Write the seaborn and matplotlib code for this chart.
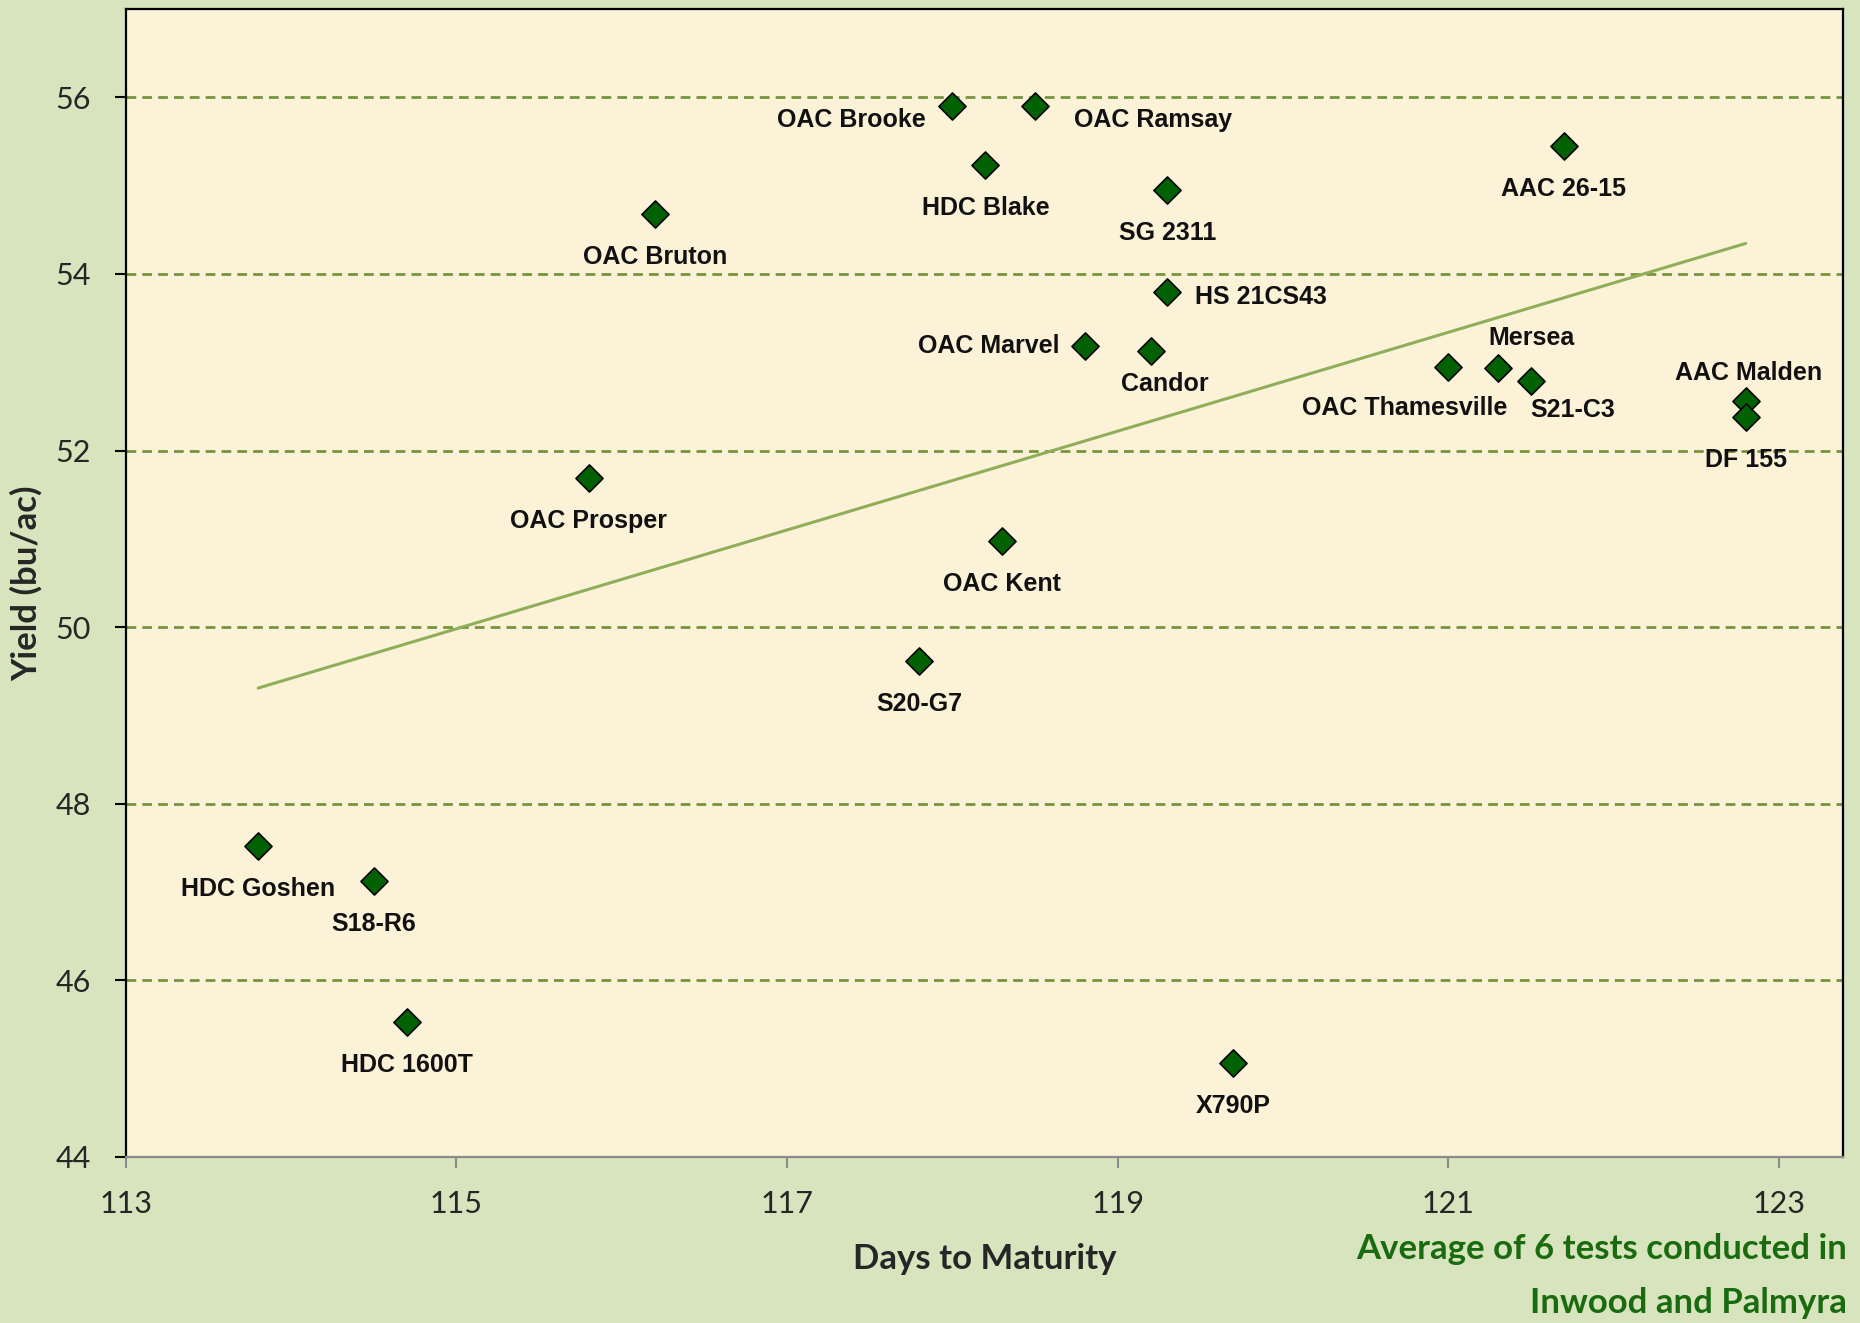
import pandas as pd
import numpy as np
import matplotlib
matplotlib.use("Agg")
import matplotlib.pyplot as plt
import seaborn as sns

# variety data
varieties = ["OAC Brooke", "OAC Ramsay", "HDC Blake", "SG 2311", "AAC 26-15",
             "OAC Bruton", "HS 21CS43", "OAC Marvel", "Candor", "OAC Thamesville",
             "Mersea", "S21-C3", "AAC Malden", "DF 155", "OAC Prosper",
             "OAC Kent", "S20-G7", "HDC Goshen", "S18-R6", "HDC 1600T", "X790P"]
days = [118.0, 118.5, 118.2, 119.3, 121.7,
        116.2, 119.3, 118.8, 119.2, 121.0,
        121.3, 121.5, 122.8, 122.8, 115.8,
        118.3, 117.8, 113.8, 114.5, 114.7, 119.7]
yields = [55.9, 55.9, 55.23, 54.95, 55.45,
          54.68, 53.79, 53.18, 53.13, 52.95,
          52.94, 52.79, 52.56, 52.38, 51.69,
          50.98, 49.62, 47.52, 47.13, 45.53, 45.06]

x_ticks = [113, 115, 117, 119, 121, 123]
y_ticks = [44, 46, 48, 50, 52, 54, 56]

df = pd.DataFrame({"Variety": varieties, "Days": days, "Yield": yields})

# label offsets in points (dx, dy, ha)
below = (0, -31, "center")
label_pos = {
    "OAC Brooke": (-19, -10, "right"),
    "OAC Ramsay": (28, -10, "left"),
    "HS 21CS43": (20, -3, "left"),
    "OAC Marvel": (-18, 0, "right"),
    "Candor": (10, -24, "center"),
    "OAC Thamesville": (-31, -30, "center"),
    "Mersea": (24, 21, "center"),
    "S21-C3": (30, -21, "center"),
    "AAC Malden": (2, 20, "center"),
}

sns.set_style("white")
plt.rcParams["font.family"] = ["Lato", "DejaVu Sans"]

fig = plt.figure(figsize=(18.6, 13.23), dpi=100, facecolor="#d7e4bd")
ax = fig.add_axes([0.0677, 0.1255, 0.9233, 0.8677])
ax.set_facecolor("#fcf2d8")

ax.set_xlim(113, 123.39)
ax.set_ylim(44, 57)
ax.set_yticks(y_ticks)
ax.set_xticks(x_ticks)

for yv in y_ticks[1:]:
    ax.axhline(yv, color="#77933c", lw=2, dashes=(3.5, 2.2), zorder=1)

sns.regplot(data=df, x="Days", y="Yield", scatter=False, ci=None, truncate=True,
            line_kws={"color": "#8fae5a", "lw": 2.2, "zorder": 2}, ax=ax)

sns.scatterplot(data=df, x="Days", y="Yield", marker="D", s=190, color="#006100",
                edgecolor="black", linewidth=1.2, zorder=3, ax=ax, legend=False)

for name, xv, yv in zip(varieties, days, yields):
    dx, dy, ha = label_pos.get(name, below)
    ax.annotate(name, (xv, yv), xytext=(dx, dy), textcoords="offset points",
                ha=ha, va="center", fontsize=18, fontweight="bold",
                family=["Liberation Sans Narrow", "Liberation Sans", "DejaVu Sans"],
                color="#111111", zorder=4)

for side in ["left", "top", "right"]:
    ax.spines[side].set_color("black")
    ax.spines[side].set_linewidth(1.6)
ax.spines["bottom"].set_color("#8c8c8c")
ax.spines["bottom"].set_linewidth(1.6)

ax.tick_params(axis="y", direction="out", length=8, width=1.5, color="black",
               labelsize=22, pad=17, left=True)
ax.tick_params(axis="x", direction="out", length=8, width=1.5, color="#8c8c8c",
               labelsize=22, pad=16, bottom=True)

ax.set_xlabel("Days to Maturity", fontsize=25, fontweight="bold", labelpad=18)
ax.set_ylabel("Yield (bu/ac)", fontsize=25, fontweight="bold", labelpad=9)

fig.text(0.993, 0.056, "Average of 6 tests conducted in", ha="right", va="center",
         fontsize=25, fontweight="bold", color="#1a6b0f")
fig.text(0.993, 0.015, "Inwood and Palmyra", ha="right", va="center",
         fontsize=25, fontweight="bold", color="#1a6b0f")

fig.savefig("out.png", dpi=100, facecolor=fig.get_facecolor())
